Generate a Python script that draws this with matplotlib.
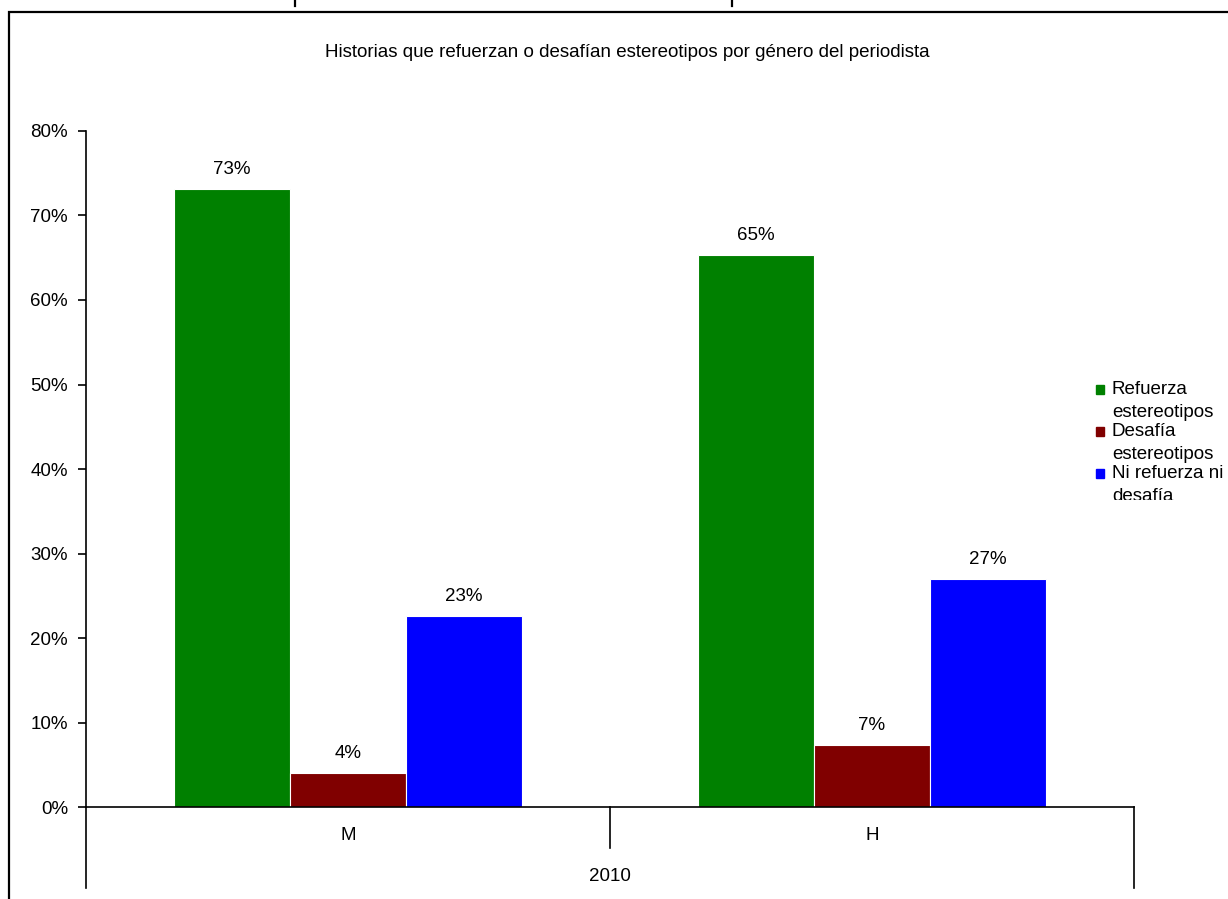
import numpy as np
import matplotlib.pyplot as plt
from matplotlib.patches import Rectangle
from matplotlib.transforms import Bbox, TransformedBbox

plt.rcParams['font.family'] = ['Liberation Sans', 'DejaVu Sans']

# datos
grupos = ['M', 'H']
anio = '2010'
series = ['Refuerza estereotipos', 'Desafía estereotipos', 'Ni refuerza ni desafía']
etiquetas_leyenda = ['Refuerza\nestereotipos', 'Desafía\nestereotipos', 'Ni refuerza ni\ndesafía']
refuerza = [0.731, 0.653]
desafia = [0.040, 0.073]
ninguno = [0.226, 0.270]
colores = ['#008000', '#800000', '#0000FF']
titulo = 'Historias que refuerzan o desafían estereotipos por género del periodista'

fs = 13.5

fig = plt.figure(figsize=(12.28, 8.99), dpi=100)
ax = fig.add_axes([0.0700, 0.1023, 0.8535, 0.7520])

x = np.arange(len(grupos))
ancho = 0.2214
valores = [refuerza, desafia, ninguno]
for i, (vals, col) in enumerate(zip(valores, colores)):
    pos = x + (i - 1) * ancho
    barras = ax.bar(pos, vals, ancho, color=col, edgecolor='white', linewidth=0.8)
    for b, v in zip(barras, vals):
        ax.annotate(f'{v * 100:.0f}%', (b.get_x() + b.get_width() / 2, v),
                    xytext=(0, 8), textcoords='offset points',
                    ha='center', va='bottom', fontsize=fs)

ax.set_xlim(-0.5, 1.5)
ax.set_ylim(0, 0.8)
ax.set_yticks(np.arange(0, 0.81, 0.1))
ax.set_yticklabels([f'{t}%' for t in range(0, 81, 10)], fontsize=fs)
ax.tick_params(axis='y', direction='out', length=6, width=1.2, pad=7)
ax.set_xticks([])
for s in ['top', 'right']:
    ax.spines[s].set_visible(False)
ax.spines['left'].set_linewidth(1.2)
ax.spines['bottom'].set_linewidth(1.2)

# eje de categorías en dos niveles
trans = ax.get_xaxis_transform()
ax.plot([-0.5, -0.5], [0, -0.12], color='black', lw=1.2, transform=trans, clip_on=False)
ax.plot([1.5, 1.5], [0, -0.12], color='black', lw=1.2, transform=trans, clip_on=False)
ax.plot([0.5, 0.5], [0, -0.061], color='black', lw=1.2, transform=trans, clip_on=False)
for xi, g in zip(x, grupos):
    ax.text(xi, -0.042, g, transform=trans, ha='center', va='center', fontsize=fs)
ax.text(0.5, -0.103, anio, transform=trans, ha='center', va='center', fontsize=fs)

fig.text(0.511, 0.942, titulo, ha='center', va='center', fontsize=fs)

# leyenda (la última línea queda recortada)
caja = TransformedBbox(Bbox([[0.85, 0.4438], [1.0, 0.7]]), fig.transFigure)
for i, (lab, col) in enumerate(zip(etiquetas_leyenda, colores)):
    y = 0.5665 - i * 0.0467
    fig.patches.append(Rectangle((0.8925, y - 0.0045), 0.0067, 0.0092,
                                 transform=fig.transFigure, color=col))
    t = fig.text(0.9055, y + 0.0095, lab, ha='left', va='top', fontsize=fs,
                 linespacing=1.45)
    t.set_clip_box(caja)
    t.set_clip_on(True)

# marco del gráfico
fig.patches.append(Rectangle((0.0073, -0.1), 1.1, 0.1 + 0.9867, transform=fig.transFigure,
                             fill=False, edgecolor='black', linewidth=1.6))
for xm in [295 / 1228, 732 / 1228]:
    fig.add_artist(plt.Line2D([xm, xm], [1.0, 0.9935], transform=fig.transFigure,
                              color='black', lw=1.6))

fig.savefig('out.png', dpi=100)
